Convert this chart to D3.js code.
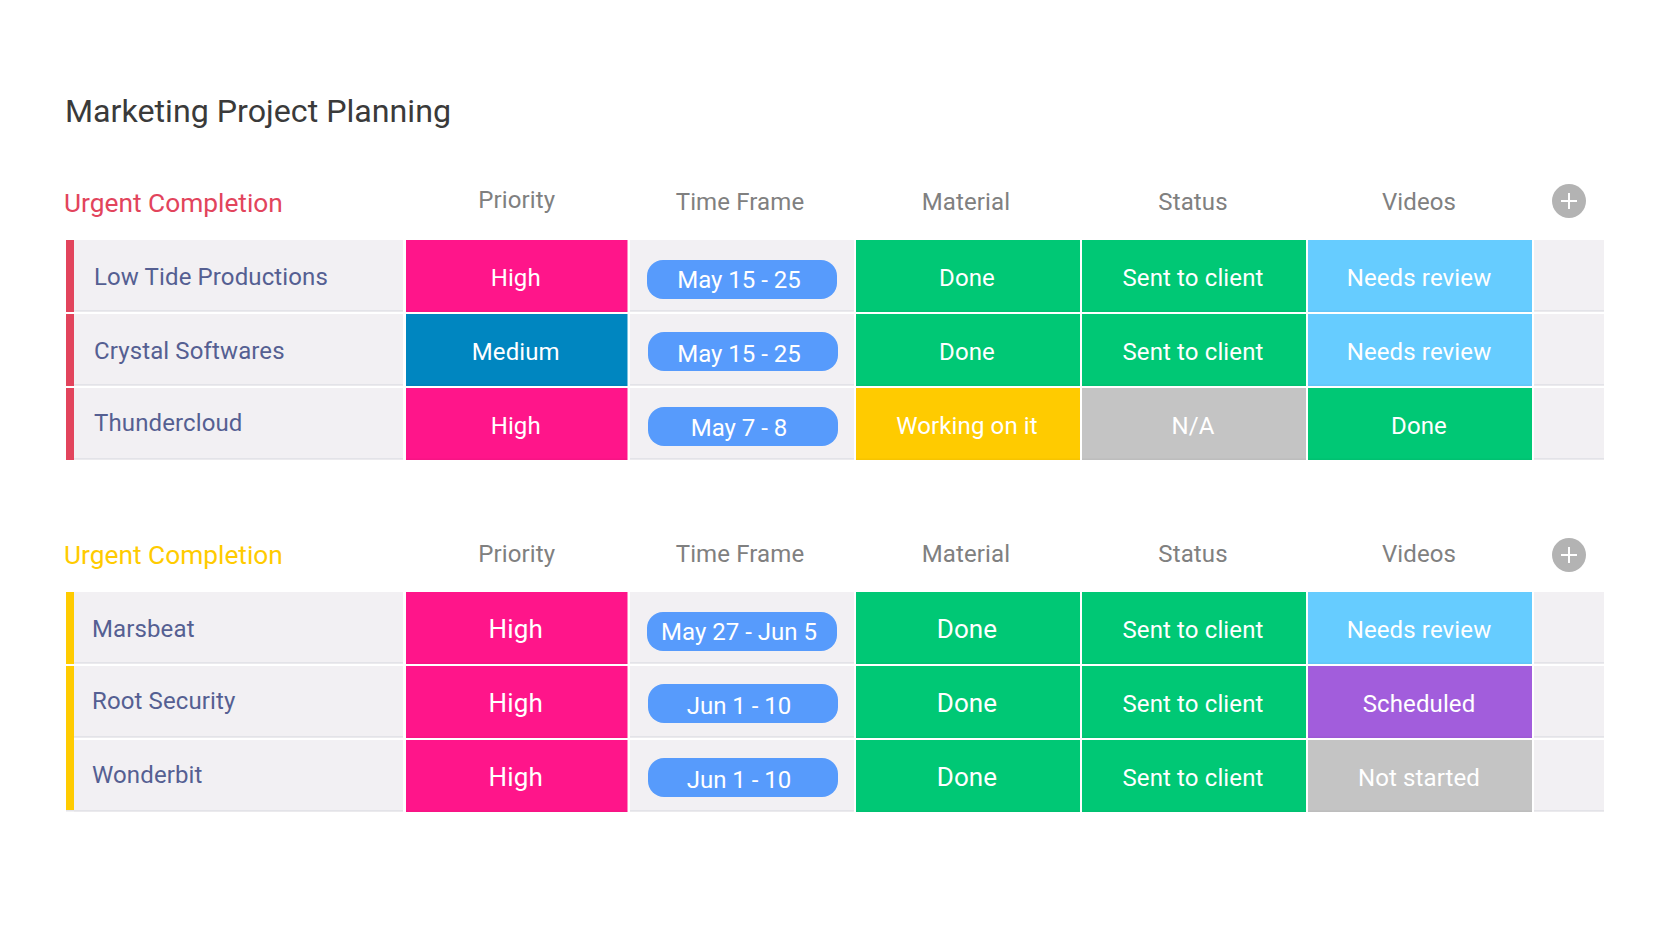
<!DOCTYPE html>
<html>
<head>
<meta charset="utf-8">
<title>Marketing Project Planning</title>
<script src="https://cdn.jsdelivr.net/npm/d3@7"></script>
<style>
	body { margin: 0; background: #fff; }
	text { font-family: Roboto, sans-serif; }
</style>
</head>
<body>
<div id="canvas"></div>
<script>
var width = 1676,
	height = 926;

// table content
var boardTitle = "Marketing Project Planning";
var groupTitles = ["Urgent Completion", "Urgent Completion"];
var columns = ["Priority", "Time Frame", "Material", "Status", "Videos"];

var names = [
	["Low Tide Productions", "Crystal Softwares", "Thundercloud"],
	["Marsbeat", "Root Security", "Wonderbit"]
];
var priority = [
	["High", "Medium", "High"],
	["High", "High", "High"]
];
var timeFrame = [
	["May 15 - 25", "May 15 - 25", "May 7 - 8"],
	["May 27 - Jun 5", "Jun 1 - 10", "Jun 1 - 10"]
];
var material = [
	["Done", "Done", "Working on it"],
	["Done", "Done", "Done"]
];
var projectStatus = [
	["Sent to client", "Sent to client", "N/A"],
	["Sent to client", "Sent to client", "Sent to client"]
];
var videos = [
	["Needs review", "Needs review", "Done"],
	["Needs review", "Scheduled", "Not started"]
];

var labelColor = d3.scaleOrdinal()
	.domain(["High", "Medium", "Done", "Sent to client", "Needs review", "Working on it", "N/A", "Scheduled", "Not started"])
	.range(["#ff158a", "#0086c0", "#00c875", "#00c875", "#66ccff", "#ffcb00", "#c4c4c4", "#a25ddc", "#c4c4c4"]);

// left edge and width of each column
var colX = d3.scaleOrdinal().domain(["name"].concat(columns).concat(["add"])).range([74, 406, 630, 856, 1082, 1308, 1534]);
var colW = d3.scaleOrdinal().domain(["name"].concat(columns).concat(["add"])).range([329, 221.5, 224, 224, 224, 224, 70]);

var groupTop = d3.scaleOrdinal().domain([0, 1]).range([240, 592]);
var groupColor = d3.scaleOrdinal().domain([0, 1]).range(["#e2445c", "#ffcb00"]);

var rowH = 72, rowGap = 2;

var svg = d3.select("#canvas")
	.append("svg")
		.attr("width", width)
		.attr("height", height)
		.style("display", "block")
		.style("background-color", "#fff");

svg.append("text")
	.attr("x", 65)
	.attr("y", 122)
	.attr("fill", "#3a3a3a")
	.style("font-size", "32.2px")
	.text(boardTitle);

// small offsets of the original layout, per group and row
var nameX = [94, 92];
var nameDy = [[45, 45, 43], [45, 43, 43]];
var pillDy = [[20, 18, 19], [20, 18, 18]];
var pillDx = [[0, 1, 1], [0, 1, 1]];
var headDx = [0, -2, -2, -1, -1];
var cellFont = [24, 26];

groupTitles.forEach(function(title, g){
	var top = groupTop(g);
	var rowY = d3.scaleBand()
		.domain(d3.range(3))
		.range([top, top + 220])
		.paddingInner(rowGap / (rowH + rowGap));

	var group = svg.append("g").classed("group", true);

	group.append("text")
		.attr("x", 64)
		.attr("y", top - 28)
		.attr("fill", groupColor(g))
		.style("font-size", "26.3px")
		.text(title);

	var heads = group.selectAll(".head")
		.data(columns)
		.enter()
		.append("text")
			.classed("head", true)
			.attr("text-anchor", "middle")
			.attr("x", function(data, i){
				return colX(data) + colW(data) / 2 + headDx[i];
			})
			.attr("y", function(data){
				return top - (g === 0 && data === "Priority" ? 32 : 30);
			})
			.attr("fill", "#808080")
			.style("font-size", "24px")
			.style("letter-spacing", "0.12px")
			.text(function(data){ return data; });

	var plus = group.append("g")
		.attr("transform", "translate(1569," + (top - 39 + g * 2) + ")");
	plus.append("circle").attr("r", 17).attr("fill", "#b3b3b3");
	plus.append("path")
		.attr("d", "M-8,0H8M0,-8V8")
		.attr("stroke", "#fff")
		.attr("stroke-width", 2);

	d3.range(3).forEach(function(r){
		var y = rowY(r);
		var row = group.append("g").classed("row", true);

		// plain cells
		["name", "Time Frame", "add"].forEach(function(col){
			row.append("rect")
				.attr("x", colX(col))
				.attr("y", y)
				.attr("width", colW(col))
				.attr("height", rowH)
				.attr("fill", "#f2f0f3");
			row.append("rect")
				.attr("x", colX(col))
				.attr("y", y + rowH - 2)
				.attr("width", colW(col))
				.attr("height", 1.5)
				.attr("fill", "#e3e3e8");
		});

		// accent bar, last two rows of the second group are joined
		var joined = g === 1 && r === 1;
		var last = g === 1 && r === 2;
		row.append("rect")
			.attr("x", 66)
			.attr("y", y)
			.attr("width", 8)
			.attr("height", rowH + (joined ? rowGap : 0) - (last ? 2 : 0))
			.attr("fill", groupColor(g));
		if(last){
			row.append("rect")
				.attr("x", 66)
				.attr("y", y + rowH - 2)
				.attr("width", 8)
				.attr("height", 1.5)
				.attr("fill", "#e3e3e8");
		}

		row.append("text")
			.attr("x", nameX[g])
			.attr("y", y + nameDy[g][r])
			.attr("fill", "#555f92")
			.style("font-size", "24px")
			.style("letter-spacing", "0.12px")
			.text(names[g][r]);

		// coloured label cells
		var cells = [
			{ col: "Priority", label: priority[g][r], size: cellFont[g] },
			{ col: "Material", label: material[g][r], size: cellFont[g] },
			{ col: "Status", label: projectStatus[g][r], size: 24 },
			{ col: "Videos", label: videos[g][r], size: 24 }
		];

		var cell = row.selectAll(".cell")
			.data(cells)
			.enter()
			.append("g")
				.classed("cell", true);

		cell.append("rect")
			.attr("x", function(data){ return colX(data.col); })
			.attr("y", y)
			.attr("width", function(data){ return colW(data.col); })
			.attr("height", rowH)
			.attr("fill", function(data){ return labelColor(data.label); });

		cell.append("rect")
			.attr("x", function(data){ return colX(data.col); })
			.attr("y", y + rowH - 1.5)
			.attr("width", function(data){ return colW(data.col); })
			.attr("height", 1.5)
			.attr("fill", "#000")
			.attr("fill-opacity", 0.03);

		cell.append("text")
			.attr("text-anchor", "middle")
			.attr("x", function(data){ return colX(data.col) + colW(data.col) / 2 - 1; })
			.attr("y", y + 46)
			.attr("fill", "#fff")
			.style("font-size", function(data){ return data.size + "px"; })
			.style("letter-spacing", "0.12px")
			.text(function(data){ return data.label; });

		// time frame pill
		var px = 647 + pillDx[g][r],
			py = y + pillDy[g][r];
		row.append("rect")
			.attr("x", px)
			.attr("y", py)
			.attr("width", 190)
			.attr("height", 39)
			.attr("rx", 16)
			.attr("fill", "#579bfc");
		row.append("text")
			.attr("text-anchor", "middle")
			.attr("x", 739)
			.attr("y", y + 48)
			.attr("fill", "#fff")
			.style("font-size", "24px")
			.text(timeFrame[g][r]);
	});
});
</script>
</body>
</html>
